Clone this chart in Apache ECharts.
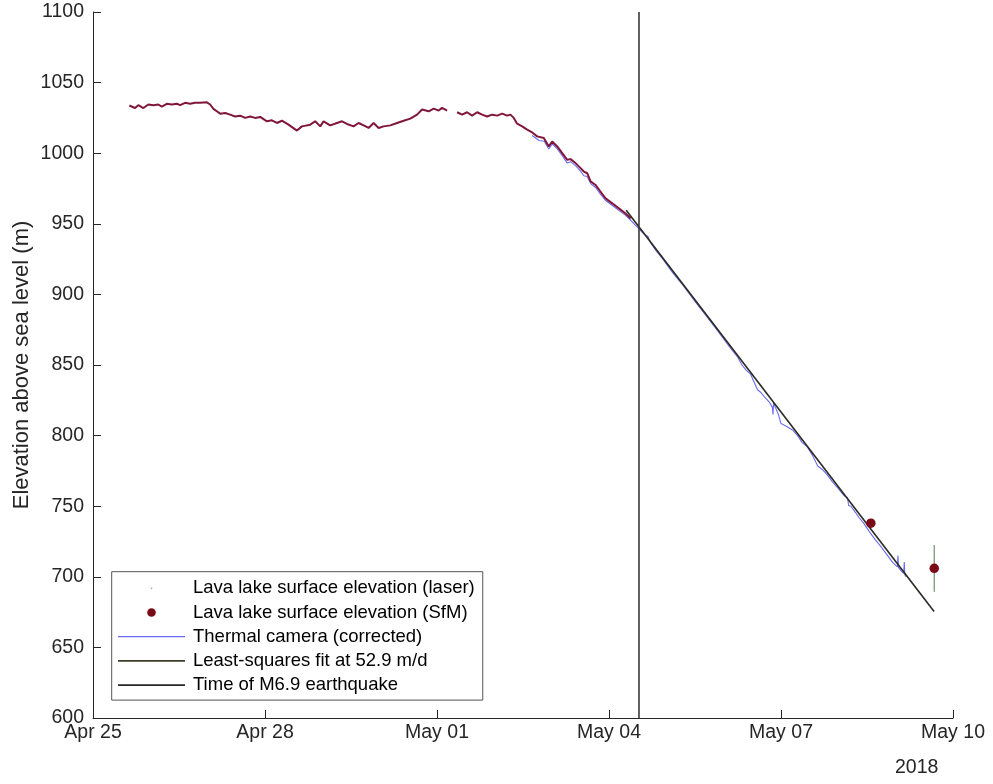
<!DOCTYPE html>
<html>
<head>
<meta charset="utf-8">
<script src="https://cdn.jsdelivr.net/npm/echarts@6/dist/echarts.min.js"></script>
<style>
  html, body { margin: 0; padding: 0; background: #fff; }
  #chart { width: 993px; height: 784px; }
</style>
</head>
<body>
<div id="chart"></div>
<script>
// Time axis: days since Apr 25 2018 00:00 (HST)
const tickLabels = ['Apr 25', 'Apr 28', 'May 01', 'May 04', 'May 07', 'May 10'];
const yearLabel = '2018';

// Laser rangefinder lake elevation (m); null marks the data gap on May 01
const laserDays = [
  0.634, 0.733, 0.791, 0.878, 0.966, 1.053, 1.140, 1.200, 1.287, 1.374, 1.462, 1.519, 1.606, 1.694,
  1.781, 1.868, 1.985, 2.043, 2.101, 2.160, 2.218, 2.305, 2.392, 2.479, 2.567, 2.654, 2.741, 2.829,
  2.916, 3.033, 3.120, 3.208, 3.295, 3.410, 3.557, 3.644, 3.789, 3.876, 3.964, 4.021, 4.138, 4.255,
  4.343, 4.430, 4.545, 4.632, 4.720, 4.807, 4.894, 4.982, 5.069, 5.186, 5.303, 5.418, 5.535, 5.652,
  5.740, 5.855, 5.942, 6.029, 6.089, 6.176,
  6.26,
  6.351, 6.438, 6.525, 6.612, 6.700, 6.787, 6.874, 6.962, 7.049, 7.136, 7.224, 7.281, 7.339, 7.398,
  7.486, 7.573, 7.660, 7.748, 7.775, 7.863, 7.950, 8.009, 8.097, 8.184, 8.271, 8.329, 8.416, 8.504,
  8.561, 8.621, 8.678, 8.765, 8.853, 8.940, 9.057, 9.172, 9.289, 9.377
];
const laserElev = [
  1033.8, 1032.0, 1034.0, 1032.0, 1034.5, 1034.0, 1034.5, 1033.0, 1035.0, 1034.5, 1035.0, 1034.0, 1035.7, 1035.0,
  1035.7, 1035.7, 1036.0, 1034.5, 1031.4, 1029.7, 1028.0, 1028.5, 1027.3, 1026.0, 1026.6, 1025.0, 1026.0, 1025.0,
  1025.7, 1022.6, 1023.3, 1021.4, 1023.0, 1020.2, 1016.0, 1019.0, 1020.2, 1022.6, 1019.0, 1022.6, 1019.7, 1021.4,
  1022.6, 1020.7, 1019.0, 1021.4, 1019.7, 1017.9, 1021.4, 1017.9, 1019.0, 1019.7, 1021.4, 1023.0, 1024.5, 1027.3,
  1030.9, 1029.7, 1031.6, 1030.2, 1032.1, 1030.2,
  null,
  1029.0, 1027.3, 1029.0, 1026.6, 1029.0, 1027.3, 1026.0, 1027.3, 1026.6, 1028.0, 1026.6, 1027.3, 1025.0, 1020.9,
  1019.0, 1016.7, 1014.7, 1011.9, 1010.8, 1010.8, 1004.8, 1008.3, 1004.8, 1000.1, 995.3, 995.8, 993.0, 989.4,
  987.0, 985.8, 980.0, 977.5, 972.7, 968.0, 964.5, 960.9, 957.3, 953.8
];

// Structure-from-motion elevations with uncertainty (m)
const sfmDays = [13.567, 14.673];
const sfmElev = [738, 706];
const sfmErr = [2, 16.5];

// Thermal camera elevation, corrected (m)
const thermalDays = [
  7.66, 7.78, 7.87, 7.95, 8.01, 8.10, 8.18, 8.27, 8.33, 8.42, 8.50, 8.56, 8.62, 8.68, 8.77, 8.85, 8.94,
  9.06, 9.17, 9.29, 9.38, 9.45, 9.52, 9.62, 9.68, 9.72, 9.82, 9.95, 10.1, 10.3, 10.5, 10.7, 10.9, 11.1,
  11.245, 11.32, 11.40, 11.47, 11.53, 11.59, 11.65, 11.72, 11.80, 11.85, 11.86, 11.87, 11.95, 12.0, 12.1,
  12.2, 12.29, 12.37, 12.46, 12.55, 12.64, 12.72, 12.80, 12.90, 13.0, 13.1, 13.16, 13.18, 13.22, 13.30,
  13.36, 13.45, 13.55, 13.65, 13.75, 13.85, 13.95, 14.03, 14.04, 14.05, 14.10, 14.14, 14.15, 14.16, 14.18
];
const thermalElev = [
  1012.5, 1009, 1008.5, 1003, 1006.5, 1003, 998.5, 993, 994, 991, 987.5, 984, 983.5, 978.5, 975.5, 971, 966.5,
  963, 959.5, 956, 952.5, 949.5, 946.5, 942.5, 941, 937, 931, 924.5, 916, 906, 895, 884.5, 874, 863,
  855.5, 850, 846, 843.5, 838, 832.5, 830.5, 827, 823.5, 820, 815, 823, 815.5, 808.5, 806.5,
  804, 800, 795, 792, 786, 778.5, 776, 772.5, 767, 762.5, 757.5, 756, 750.5, 750, 745.5,
  742, 737.5, 731.5, 726, 721, 715.5, 710, 707, 715, 706.5, 704, 702.5, 710.5, 701.5, 700
];

// Least-squares fit (52.9 m/d) end points
const fitDays = [9.30, 14.67];
const fitElev = [959.6, 675.5];

// M6.9 earthquake, May 04 12:33 HST
const quakeDays = [9.523, 9.523];
const quakeElev = [600, 1100];

const NAMES = {
  laser: 'Lava lake surface elevation (laser)',
  sfm: 'Lava lake surface elevation (SfM)',
  thermal: 'Thermal camera (corrected)',
  fit: 'Least-squares fit at 52.9 m/d',
  quake: 'Time of M6.9 earthquake'
};

const FONT = '"Liberation Sans", Arial, Helvetica, sans-serif';
const AXIS_COLOR = '#262626';
const TICK_FONT = 19.5;

const zip = (xs, ys) => xs.map((x, i) => [x, ys[i]]);

// Legend icons sized to the full 67x14 icon box so they are not rescaled
const dotIcon = r => `path://M0,0M67,14M${33.5 - r},7a${r},${r} 0 1,0 ${2 * r},0a${r},${r} 0 1,0 ${-2 * r},0z`;
const barIcon = w => `path://M0,0M67,14M0,${7 - w / 2}h67v${w}h-67z`;

const chart = echarts.init(document.getElementById('chart'), null, { renderer: 'canvas' });

chart.setOption({
  animation: false,
  backgroundColor: '#fff',
  textStyle: { fontFamily: FONT },
  grid: { left: 93, right: 40, top: 12, bottom: 66, containLabel: false },
  xAxis: {
    type: 'value',
    min: 0, max: 15, interval: 3,
    axisLine: { show: true, lineStyle: { color: AXIS_COLOR, width: 1 } },
    axisTick: { show: true, inside: true, length: 8, lineStyle: { color: AXIS_COLOR } },
    axisLabel: {
      color: AXIS_COLOR, fontSize: TICK_FONT, fontFamily: FONT, margin: 5,
      formatter: v => tickLabels[Math.round(v / 3)]
    },
    splitLine: { show: false }
  },
  yAxis: {
    type: 'value',
    min: 600, max: 1100, interval: 50,
    name: 'Elevation above sea level (m)',
    nameLocation: 'middle',
    nameGap: 60,
    nameMoveOverlap: false,
    nameTextStyle: { color: AXIS_COLOR, fontSize: 22, fontFamily: FONT },
    axisLine: { show: true, lineStyle: { color: AXIS_COLOR, width: 1 } },
    axisTick: { show: true, inside: true, length: 8, lineStyle: { color: AXIS_COLOR } },
    axisLabel: {
      color: AXIS_COLOR, fontSize: TICK_FONT, fontFamily: FONT, margin: 9,
      formatter: v => String(v)
    },
    splitLine: { show: false }
  },
  legend: {
    orient: 'vertical',
    left: 111.7, top: 571.7,
    padding: [6.6, 8, 5, 6.3],
    itemGap: 4.2,
    itemWidth: 67, itemHeight: 14,
    borderColor: '#555', borderWidth: 1,
    backgroundColor: '#fff',
    selectedMode: false,
    itemStyle: { borderWidth: 0 },
    textStyle: { color: '#000', fontSize: 18.5, fontFamily: FONT, lineHeight: 20, padding: [0, 0, 0, 3] },
    data: [
      { name: NAMES.laser, icon: dotIcon(0.9), itemStyle: { color: '#c49aa6' } },
      { name: NAMES.sfm, icon: dotIcon(4.3), itemStyle: { color: '#7a0a16', opacity: 1 } },
      { name: NAMES.thermal, icon: barIcon(1.2), itemStyle: { color: '#6a6af0' } },
      { name: NAMES.fit, icon: barIcon(1.6), itemStyle: { color: '#3d3d28' } },
      { name: NAMES.quake, icon: barIcon(1.6), itemStyle: { color: '#262626' } }
    ]
  },
  graphic: [
    {
      type: 'text', left: 895, top: 758,
      style: { text: yearLabel, fill: AXIS_COLOR, fontSize: TICK_FONT, fontFamily: FONT }
    }
  ],
  series: [
    {
      name: NAMES.thermal, type: 'line', z: 2,
      data: zip(thermalDays, thermalElev),
      symbol: 'none', smooth: false,
      lineStyle: { color: '#6a6af0', width: 1.1 },
      itemStyle: { color: '#6a6af0' }
    },
    {
      name: NAMES.laser, type: 'line', z: 3,
      data: zip(laserDays, laserElev),
      symbol: 'none', connectNulls: false,
      lineStyle: { color: '#80173a', width: 2 },
      itemStyle: { color: '#80173a' }
    },
    {
      name: NAMES.fit, type: 'line', z: 4,
      data: zip(fitDays, fitElev),
      symbol: 'none',
      lineStyle: { color: '#2a2a22', width: 1.6 },
      itemStyle: { color: '#3d3d28' }
    },
    {
      name: NAMES.quake, type: 'line', z: 4,
      data: zip(quakeDays, quakeElev),
      symbol: 'none',
      lineStyle: { color: '#3a3a3a', width: 1.6 },
      itemStyle: { color: '#262626' }
    },
    {
      name: 'sfm-error', type: 'custom', z: 5,
      data: sfmDays.map((d, i) => [d, sfmElev[i] - sfmErr[i], sfmElev[i] + sfmErr[i]]),
      renderItem: (params, api) => {
        const lo = api.coord([api.value(0), api.value(1)]);
        const hi = api.coord([api.value(0), api.value(2)]);
        return {
          type: 'line',
          shape: { x1: lo[0], y1: lo[1], x2: hi[0], y2: hi[1] },
          style: { stroke: '#6f8f6f', lineWidth: 1.2 }
        };
      },
      encode: { x: 0, y: [1, 2] },
      silent: true
    },
    {
      name: NAMES.sfm, type: 'scatter', z: 6,
      data: zip(sfmDays, sfmElev),
      symbol: 'circle', symbolSize: 9.5,
      itemStyle: { color: '#7a0a16', opacity: 1 }
    }
  ]
});
</script>
</body>
</html>
